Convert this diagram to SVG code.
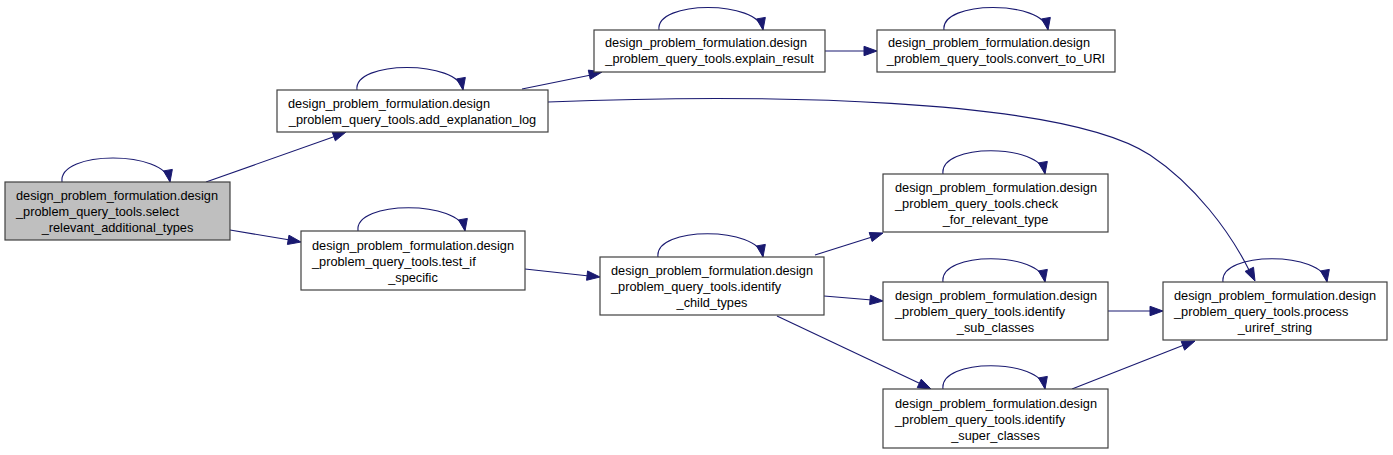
<svg xmlns="http://www.w3.org/2000/svg" width="1393" height="455" viewBox="0 0 1393 455">
<style>
.bg{fill:#ffffff}
.n rect{fill:#ffffff;stroke:#404040;stroke-width:1.2}
.n.cur rect{fill:#bfbfbf}
.n text{font-family:"Liberation Sans",Arial,sans-serif;font-size:12.75px;fill:#000000}
.n text.m{text-anchor:middle}
.ln{fill:none;stroke:#191970;stroke-width:1.1}
.ah{fill:#191970;stroke:#191970;stroke-width:1;stroke-linejoin:miter}
</style>
<rect class="bg" x="0" y="0" width="1393" height="455"/>
<g id="edges">
<path class="ln" d="M62,182 C58,150 166,150 170,182"/>
<path class="ah" d="M170,182 L172.35,169.4 L163.5,170.96 Z"/>
<path class="ln" d="M357,90 C353,60 459,60 463,90"/>
<path class="ah" d="M463,90 L465.35,77.4 L456.5,78.96 Z"/>
<path class="ln" d="M659,30 C655,0 759,0 763,30"/>
<path class="ah" d="M763,30 L765.35,17.4 L756.5,18.96 Z"/>
<path class="ln" d="M944,30 C940,0 1044,0 1048,30"/>
<path class="ah" d="M1048,30 L1050.35,17.4 L1041.5,18.96 Z"/>
<path class="ln" d="M358,231 C354,200 461,200 465,231"/>
<path class="ah" d="M465,231 L467.35,218.4 L458.5,219.96 Z"/>
<path class="ln" d="M658,257 C654,226 759,226 763,257"/>
<path class="ah" d="M763,257 L765.35,244.4 L756.5,245.96 Z"/>
<path class="ln" d="M943,174 C939,143 1041,143 1045,174"/>
<path class="ah" d="M1045,174 L1047.35,161.4 L1038.5,162.96 Z"/>
<path class="ln" d="M943,282 C939,251 1041,251 1045,282"/>
<path class="ah" d="M1045,282 L1047.35,269.4 L1038.5,270.96 Z"/>
<path class="ln" d="M943,389 C939,358 1041,358 1045,389"/>
<path class="ah" d="M1045,389 L1047.35,376.4 L1038.5,377.96 Z"/>
<path class="ln" d="M1223,282 C1219,251 1323,251 1327,282"/>
<path class="ah" d="M1327,282 L1329.35,269.4 L1320.5,270.96 Z"/>
<path class="ln" d="M206,182 L336,136"/>
<path class="ah" d="M346,132 L335.34,140.8 L332.18,131.94 Z"/>
<path class="ln" d="M230,230 L290,240"/>
<path class="ah" d="M301,242 L287.4,244.46 L288.96,235.2 Z"/>
<path class="ln" d="M522,89 L591,75"/>
<path class="ah" d="M602,72 L590.26,79.3 L588.3,70.1 Z"/>
<path class="ln" d="M825,51 L866,51"/>
<path class="ah" d="M877,51 L864,55.7 L864,46.3 Z"/>
<path class="ln" d="M548,102 C750,94 1060,96 1150,155 C1195,185 1230,232 1249,270"/>
<path class="ah" d="M1255,281 L1245.08,271.38 L1253.52,267.26 Z"/>
<path class="ln" d="M525,269 L589,276"/>
<path class="ah" d="M600,277 L586.57,280.29 L587.57,270.95 Z"/>
<path class="ln" d="M815,255 L872,237"/>
<path class="ah" d="M883,233 L872.08,241.47 L869.18,232.53 Z"/>
<path class="ln" d="M824,296 L872,300"/>
<path class="ah" d="M883,301 L869.65,304.58 L870.45,295.22 Z"/>
<path class="ln" d="M777,316 L921,384"/>
<path class="ah" d="M931,389 L917.24,387.68 L921.26,379.18 Z"/>
<path class="ln" d="M1108,311 L1152,311"/>
<path class="ah" d="M1163,311 L1150,315.7 L1150,306.3 Z"/>
<path class="ln" d="M1072,389 L1184,345"/>
<path class="ah" d="M1195,341 L1184.6,350.11 L1181.18,341.35 Z"/>
</g>
<g id="n_select" class="n cur">
<rect x="5" y="182" width="225" height="58"/>
<text x="16" y="200">design_problem_formulation.design</text>
<text x="16" y="216">_problem_query_tools.select</text>
<text class="m" x="117.5" y="232">_relevant_additional_types</text>
</g>
<g id="n_add_explanation_log" class="n">
<rect x="277" y="90" width="271" height="42"/>
<text x="288" y="108">design_problem_formulation.design</text>
<text class="m" x="412.5" y="124">_problem_query_tools.add_explanation_log</text>
</g>
<g id="n_explain_result" class="n">
<rect x="594" y="30" width="231" height="42"/>
<text x="605" y="47">design_problem_formulation.design</text>
<text class="m" x="709.5" y="63">_problem_query_tools.explain_result</text>
</g>
<g id="n_convert_to_URI" class="n">
<rect x="877" y="30" width="238" height="42"/>
<text x="888" y="47">design_problem_formulation.design</text>
<text class="m" x="996" y="63">_problem_query_tools.convert_to_URI</text>
</g>
<g id="n_test_if_specific" class="n">
<rect x="301" y="231" width="224" height="59"/>
<text x="312" y="249.5">design_problem_formulation.design</text>
<text x="312" y="265.5">_problem_query_tools.test_if</text>
<text class="m" x="413" y="281.5">_specific</text>
</g>
<g id="n_identify_child_types" class="n">
<rect x="600" y="257" width="224" height="58"/>
<text x="611" y="275">design_problem_formulation.design</text>
<text x="611" y="291">_problem_query_tools.identify</text>
<text class="m" x="712" y="307">_child_types</text>
</g>
<g id="n_check_for_relevant_type" class="n">
<rect x="883" y="174" width="225" height="58"/>
<text x="895" y="192">design_problem_formulation.design</text>
<text x="895" y="208">_problem_query_tools.check</text>
<text class="m" x="995.5" y="224">_for_relevant_type</text>
</g>
<g id="n_identify_sub_classes" class="n">
<rect x="883" y="282" width="225" height="58"/>
<text x="895" y="300">design_problem_formulation.design</text>
<text x="895" y="316">_problem_query_tools.identify</text>
<text class="m" x="995.5" y="332">_sub_classes</text>
</g>
<g id="n_identify_super_classes" class="n">
<rect x="883" y="389" width="225" height="59"/>
<text x="895" y="407.5">design_problem_formulation.design</text>
<text x="895" y="423.5">_problem_query_tools.identify</text>
<text class="m" x="995.5" y="439.5">_super_classes</text>
</g>
<g id="n_process_uriref_string" class="n">
<rect x="1163" y="282" width="224" height="58"/>
<text x="1174" y="300">design_problem_formulation.design</text>
<text x="1174" y="316">_problem_query_tools.process</text>
<text class="m" x="1275" y="332">_uriref_string</text>
</g>
</svg>
